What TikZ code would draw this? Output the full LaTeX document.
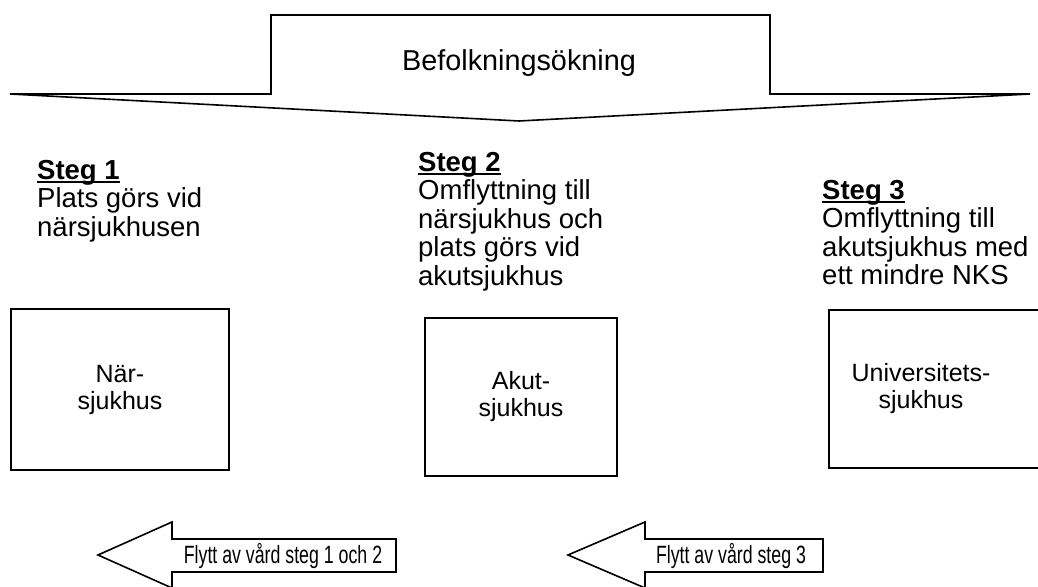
\documentclass[tikz,border=0pt]{standalone}
\usepackage{fontspec}
\setmainfont{Liberation Sans}
\newcommand{\stephead}[1]{\textbf{#1}\llap{\rule[-3.5pt]{\widthof{\textbf{#1}}}{2pt}}}
\usepackage{calc}
\begin{document}
\begin{tikzpicture}[x=1pt,y=-1pt,
  arrowshape/.style={draw=black,line width=1.6pt,line join=miter,fill=white},
  hosp/.style={draw=black,line width=2.6pt,fill=white,inner sep=0pt,align=center,
    font=\fontsize{25}{27}\selectfont},
  steptext/.style={anchor=north west,inner sep=0pt,align=left,
    font=\fontsize{27.5}{28.5}\selectfont},
  flowtext/.style={inner sep=0pt,font=\fontsize{25}{27}\selectfont,xscale=0.71,transform shape},
  toptext/.style={inner sep=0pt,font=\fontsize{28.8}{30}\selectfont}
]
\useasboundingbox (0,0) rectangle (1038,586);
% top arrow
\draw[arrowshape] (271,15) -- (770,15) -- (770,94) -- (1030,94) -- (519,121) -- (10,94) -- (271,94) -- cycle;
\node[toptext] (pop) at (519,63) {Befolkningsökning};
% steps
\node[steptext] (s1) at (37,160) {\stephead{Steg 1}\\Plats görs vid\\närsjukhusen};
\node[steptext] (s2) at (418,152) {\stephead{Steg 2}\\Omflyttning till\\närsjukhus och\\plats görs vid\\akutsjukhus};
\node[steptext] (s3) at (822,180) {\stephead{Steg 3}\\Omflyttning till\\akutsjukhus med\\ett mindre NKS};
% hospitals
\node[hosp,minimum width=218pt,minimum height=161pt] (h1) at (120,389.5) {När-\\sjukhus};
\node[hosp,minimum width=192pt,minimum height=158pt] (h2) at (521,397) {Akut-\\sjukhus};
\draw[draw=black,line width=2.6pt,fill=white] (829,310) rectangle (1060,468);
\node[inner sep=0pt,align=center,font=\fontsize{25}{27}\selectfont] (h3) at (921,389) {Universitets-\\sjukhus};
% bottom arrows
\draw[arrowshape] (98,555) -- (172,522) -- (172,539) -- (396,539) -- (396,572) -- (172,572) -- (172,588) -- cycle;
\node[flowtext] (f1) at (283,556) {Flytt av vård steg 1 och 2};
\draw[arrowshape] (568,555) -- (645,522) -- (645,539) -- (823,539) -- (823,572) -- (645,572) -- (645,588) -- cycle;
\node[flowtext] (f2) at (731,556) {Flytt av vård steg 3};
\end{tikzpicture}
\end{document}
